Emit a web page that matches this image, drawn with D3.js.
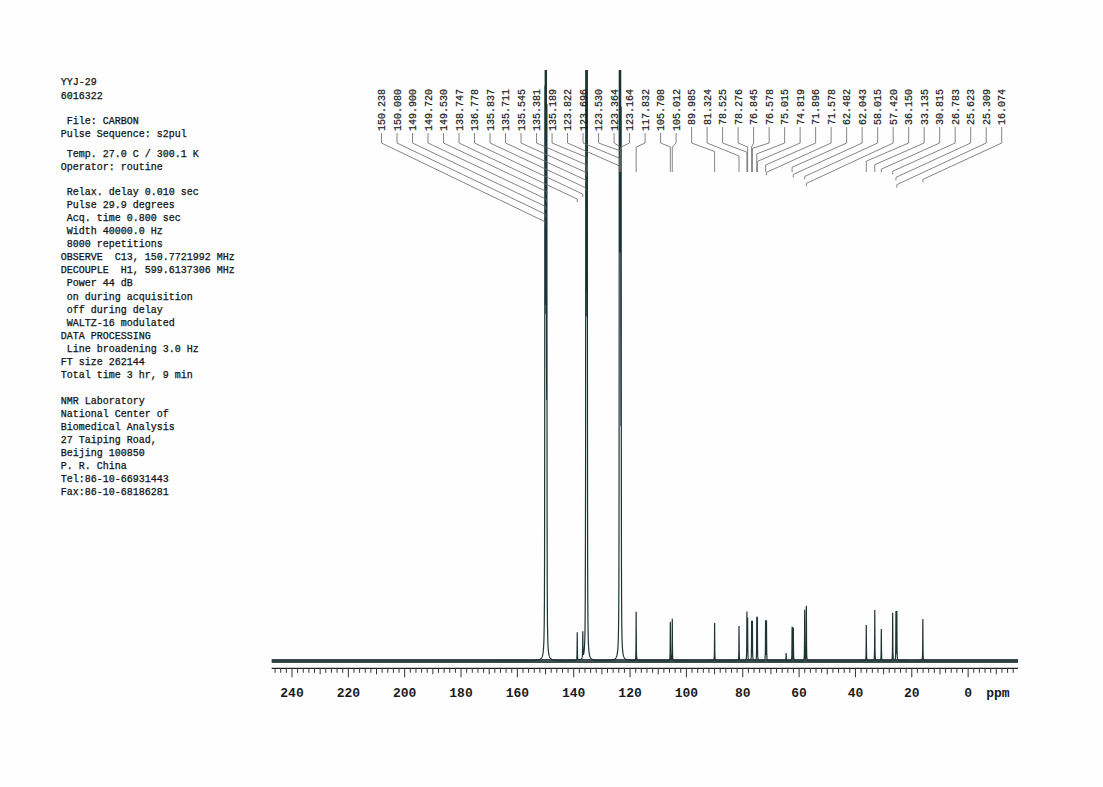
<!DOCTYPE html>
<html><head><meta charset="utf-8">
<script src="https://cdn.jsdelivr.net/npm/d3@7"></script>
<style>
body{margin:0;background:#fff;}
svg{display:block;}
text{font-family:"Liberation Mono","DejaVu Sans Mono",monospace;}
</style>
</head><body>
<svg id="c" width="1103" height="787"></svg>
<script>
// ---------- data ----------
const headerId = ["YYJ-29", "6016322"];
const headerFile = [" File: CARBON", "Pulse Sequence: s2pul"];
const headerTemp = [" Temp. 27.0 C / 300.1 K", "Operator: routine"];
const headerParams = [
  " Relax. delay 0.010 sec",
  " Pulse 29.9 degrees",
  " Acq. time 0.800 sec",
  " Width 40000.0 Hz",
  " 8000 repetitions",
  "OBSERVE  C13, 150.7721992 MHz",
  "DECOUPLE  H1, 599.6137306 MHz",
  " Power 44 dB",
  " on during acquisition",
  " off during delay",
  " WALTZ-16 modulated",
  "DATA PROCESSING",
  " Line broadening 3.0 Hz",
  "FT size 262144",
  "Total time 3 hr, 9 min"
];
const headerLab = [
  "NMR Laboratory",
  "National Center of",
  "Biomedical Analysis",
  "27 Taiping Road,",
  "Beijing 100850",
  "P. R. China",
  "Tel:86-10-66931443",
  "Fax:86-10-68186281"
];

// labelled peaks (ppm) and their heights (arbitrary units, baseline = 0)
const peakPpm = [150.238,150.080,149.900,149.720,149.530,138.747,136.778,135.837,135.711,135.545,
  135.381,135.189,123.822,123.696,123.530,123.364,123.164,117.832,105.708,105.012,
  89.985,81.324,78.525,78.276,76.845,76.578,75.015,74.819,71.896,71.578,
  62.482,62.043,58.015,57.420,36.150,33.135,30.815,26.783,25.623,25.309,16.074];
const peakHeight = [500,700,900,700,500,28,26,25,600,800,
  900,700,500,700,900,700,500,49,39,42,
  38,35,48,42,39,39,42,42,40,40,
  34,33,51,55,36,51,32,48,49,49,42];
// small unlabelled peak
const minorPpm = [64.6];
const minorHeight = [8];

const axisTickLabels = [240,220,200,180,160,140,120,100,80,60,40,20,0];
const axisUnit = "ppm";

// ---------- drawing ----------
const svg = d3.select("#c");
svg.append("rect").attr("width",1103).attr("height",787).attr("fill","#fefefe");

// header text
function block(lines, y0, lh){
  svg.append("g").selectAll("text").data(lines).join("text")
    .attr("x", 60.7).attr("y", (d,i)=> y0 + i*lh)
    .attr("font-size", 10).attr("fill", "#111")
    .attr("stroke", "#111").attr("stroke-width", 0.25)
    .attr("xml:space","preserve").style("white-space","pre")
    .text(d=>d);
}
block(headerId, 85, 13.5);
block(headerFile, 124, 13);
block(headerTemp, 157, 12.7);
block(headerParams, 195.2, 13.04);
block(headerLab, 403.5, 13);

// scales
const x = d3.scaleLinear().domain([247.2, -17.7]).range([271.7, 1018]);
const y = d3.scaleLinear().domain([0, 100]).range([661, 561]);

// spectrum
const peaks = peakPpm.map((p,i)=>({p, h: peakHeight[i]}))
  .concat(minorPpm.map((p,i)=>({p, h: minorHeight[i]})));
const W = 0.045;
const grid = d3.range(247.2, -17.7, -0.05).concat(peaks.map(d=>d.p)).sort((a,b)=>b-a);
const spec = grid.map(g => [g, d3.sum(peaks, d => d.h*W*W/(W*W + (g-d.p)*(g-d.p)))]);

svg.append("clipPath").attr("id","clip").append("rect")
  .attr("x",0).attr("y",70).attr("width",1103).attr("height",717);

const specG = svg.append("g").attr("clip-path","url(#clip)");
specG.append("line")
  .attr("x1", x(247.2)).attr("x2", x(-17.7))
  .attr("y1", y(0)).attr("y2", y(0))
  .attr("stroke", "#2a3c3c").attr("stroke-width", 4).attr("opacity", 0.9);
specG.append("path").datum(spec)
  .attr("d", d3.line().x(d=>x(d[0])).y(d=>y(d[1])))
  .attr("fill","none").attr("stroke","#1d3434").attr("stroke-width",1.2);

// axis
const axisY = 668.3;
const ax = svg.append("g");
ax.append("line").attr("x1", x(247.2)).attr("x2", x(-17.7))
  .attr("y1", axisY).attr("y2", axisY).attr("stroke","#222").attr("stroke-width",1.2);
const tickVals = d3.range(246, -17, -2);
ax.selectAll("line.t").data(tickVals).join("line").attr("class","t")
  .attr("x1", d=>x(d)).attr("x2", d=>x(d))
  .attr("y1", axisY)
  .attr("y2", d => axisY + (d % 20 === 0 && d >= 0 && d <= 240 ? 9 : (d % 10 === 0 ? 6 : 4.5)))
  .attr("stroke","#333").attr("stroke-width",1);
ax.selectAll("text.l").data(axisTickLabels).join("text").attr("class","l")
  .attr("x", d=>x(d)).attr("y", 697)
  .attr("text-anchor","middle").attr("font-size",13).attr("font-weight","bold").attr("fill","#1a1a1a")
  .text(d=>d);
ax.append("text").attr("x", x(0) + 18).attr("y", 697)
  .attr("font-size",13).attr("font-weight","bold").attr("fill","#1a1a1a").text(axisUnit);

// peak labels with leader lines
const n = peakPpm.length;
const lx = d3.scaleLinear().domain([0, n-1]).range([381.5, 1001.7]);
const fmt = d3.format(".3f");
const labG = svg.append("g");
const tickBottom = 143;
peakPpm.forEach((p,i)=>{
  const X = lx(i);
  const t = labG.append("text")
    .attr("transform", `translate(${X},89) rotate(-90)`)
    .attr("text-anchor","end").attr("dy","0.35em")
    .attr("font-size",10).attr("fill","#1a1a1a")
    .attr("stroke","#1a1a1a").attr("stroke-width",0.2)
    .text(fmt(p));
  const len = t.node().getComputedTextLength();
  const px = x(p);
  const dx = Math.abs(px - X);
  const yB = tickBottom + Math.max(4, 0.5*dx - 3);
  const yC = Math.max(172, yB + 3);
  labG.append("path")
    .attr("d", d3.line()([[X, 89 + len + 2], [X, tickBottom], [px, yB], [px, yC]]))
    .attr("fill","none").attr("stroke","#666").attr("stroke-width",0.8);
});
</script>
</body></html>
